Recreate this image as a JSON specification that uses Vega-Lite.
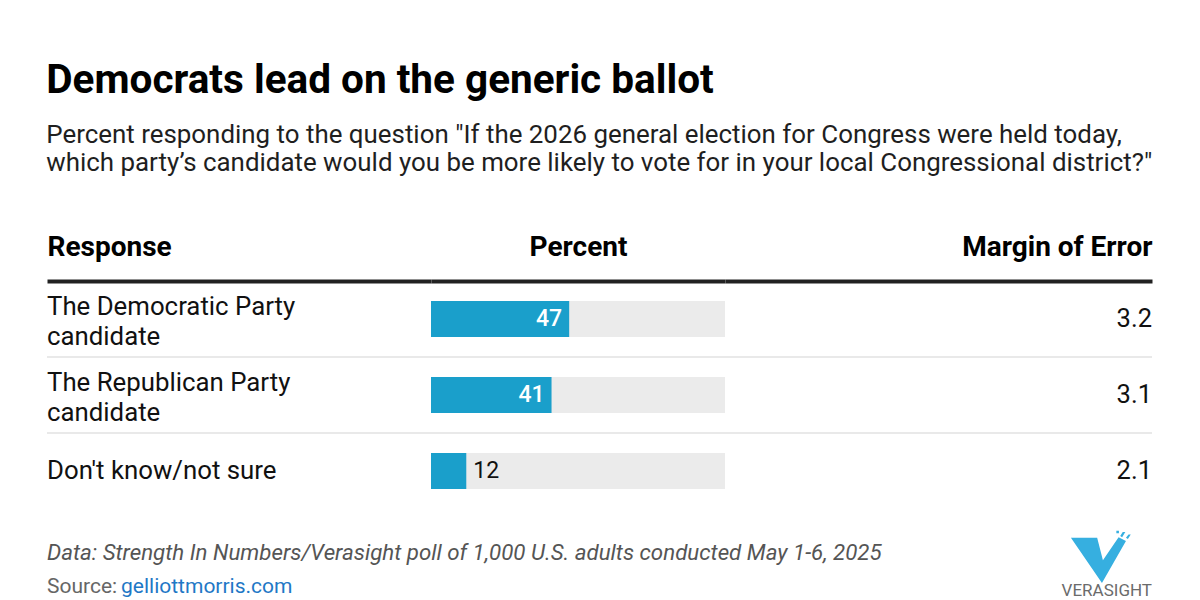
{
  "$schema": "https://vega.github.io/schema/vega-lite/v6.json",
  "background": "white",
  "padding": {"left": 46, "right": 45, "top": 60, "bottom": 0},
  "config": {
    "font": "Roboto",
    "view": {"stroke": null},
    "text": {"font": "Roboto"}
  },
  "title": {
    "text": "Democrats lead on the generic ballot",
    "subtitle": [
      "Percent responding to the question \"If the 2026 general election for Congress were held today,",
      "which party’s candidate would you be more likely to vote for in your local Congressional district?\""
    ],
    "anchor": "start",
    "font": "Roboto",
    "fontSize": 40.5,
    "fontWeight": "bold",
    "color": "#000000",
    "subtitleFont": "Roboto",
    "subtitleFontSize": 25.9,
    "subtitleColor": "#1f1f1f",
    "subtitlePadding": 22,
    "subtitleLineHeight": 28,
    "offset": 57
  },
  "datasets": {
    "rows": [
      {"row": 1, "response": "The Democratic Party\ncandidate", "pct": 47, "moe": 3.2},
      {"row": 2, "response": "The Republican Party\ncandidate", "pct": 41, "moe": 3.1},
      {"row": 3, "response": "Don't know/not sure", "pct": 12, "moe": 2.1}
    ],
    "footer": [
      {"line": 1, "part": "note", "text": "Data: Strength In Numbers/Verasight poll of 1,000 U.S. adults conducted May 1-6, 2025"},
      {"line": 2, "part": "label", "text": "Source:"},
      {"line": 2, "part": "link", "text": "gelliottmorris.com"},
      {"line": 1, "part": "logo", "text": ""},
      {"line": 2, "part": "brand", "text": "VERASIGHT"}
    ]
  },
  "spacing": 21,
  "vconcat": [
    {
      "spacing": 0,
      "bounds": "flush",
      "hconcat": [
        {
          "width": 384,
          "height": 228,
          "data": {"name": "rows"},
          "encoding": {
            "y": {"field": "row", "type": "ordinal", "scale": {"paddingInner": 0, "paddingOuter": 0}, "axis": null}
          },
          "layer": [
            {
              "transform": [{"filter": "datum.row > 1"}],
              "mark": {"type": "rule", "color": "#e2e2e2", "strokeWidth": 1.5},
              "encoding": {"y": {"field": "row", "type": "ordinal", "bandPosition": 0}}
            },
            {
              "transform": [{"filter": "indexof(datum.response, '\\n') >= 0"}],
              "mark": {"type": "text", "align": "left", "baseline": "middle", "dy": -12, "fontSize": 25.8, "lineBreak": "\n", "lineHeight": 30, "color": "#111111"},
              "encoding": {
                "x": {"datum": 0, "type": "quantitative", "scale": {"domain": [0, 1]},
                  "axis": {"orient": "top", "zindex": 1, "domain": true, "domainColor": "#222222", "domainWidth": 4, "ticks": false, "labels": false, "grid": false, "title": "Response", "titleAnchor": "start", "titleFont": "Roboto", "titleFontSize": 28, "titleFontWeight": "bold", "titleColor": "#000000", "titlePadding": 20}},
                "text": {"field": "response"}
              }
            },
            {
              "transform": [{"filter": "indexof(datum.response, '\\n') < 0"}],
              "mark": {"type": "text", "align": "left", "baseline": "middle", "fontSize": 25.8, "color": "#111111"},
              "encoding": {
                "x": {"datum": 0, "type": "quantitative"},
                "text": {"field": "response"}
              }
            }
          ]
        },
        {
          "width": 294,
          "height": 228,
          "data": {"name": "rows"},
          "encoding": {
            "y": {"field": "row", "type": "ordinal", "scale": {"paddingInner": 0, "paddingOuter": 0}, "axis": null}
          },
          "layer": [
            {
              "transform": [{"filter": "datum.row > 1"}],
              "mark": {"type": "rule", "color": "#e2e2e2", "strokeWidth": 1.5},
              "encoding": {"y": {"field": "row", "type": "ordinal", "bandPosition": 0}}
            },
            {
              "mark": {"type": "bar", "color": "#ebebeb", "height": {"band": 0.474}},
              "encoding": {
                "x": {"datum": 100, "type": "quantitative", "scale": {"domain": [0, 100], "nice": false},
                  "axis": {"orient": "top", "zindex": 1, "domain": true, "domainColor": "#222222", "domainWidth": 4, "ticks": false, "labels": false, "grid": false, "title": "Percent", "titleAnchor": "middle", "titleFont": "Roboto", "titleFontSize": 28, "titleFontWeight": "bold", "titleColor": "#000000", "titlePadding": 20}}
              }
            },
            {
              "mark": {"type": "bar", "color": "#1a9fcb", "height": {"band": 0.474}},
              "encoding": {"x": {"field": "pct", "type": "quantitative"}}
            },
            {
              "transform": [{"filter": "datum.pct >= 20"}],
              "mark": {"type": "text", "align": "right", "baseline": "middle", "dx": -7, "fontSize": 23, "fontWeight": 500, "color": "#ffffff"},
              "encoding": {"x": {"field": "pct", "type": "quantitative"}, "text": {"field": "pct", "type": "quantitative"}}
            },
            {
              "transform": [{"filter": "datum.pct < 20"}],
              "mark": {"type": "text", "align": "left", "baseline": "middle", "dx": 7, "fontSize": 23, "color": "#111111"},
              "encoding": {"x": {"field": "pct", "type": "quantitative"}, "text": {"field": "pct", "type": "quantitative"}}
            }
          ]
        },
        {
          "width": 427,
          "height": 228,
          "data": {"name": "rows"},
          "encoding": {
            "y": {"field": "row", "type": "ordinal", "scale": {"paddingInner": 0, "paddingOuter": 0}, "axis": null}
          },
          "layer": [
            {
              "transform": [{"filter": "datum.row > 1"}],
              "mark": {"type": "rule", "color": "#e2e2e2", "strokeWidth": 1.5},
              "encoding": {"y": {"field": "row", "type": "ordinal", "bandPosition": 0}}
            },
            {
              "mark": {"type": "text", "align": "right", "baseline": "middle", "fontSize": 25.5, "color": "#111111"},
              "encoding": {
                "x": {"datum": 1, "type": "quantitative", "scale": {"domain": [0, 1]},
                  "axis": {"orient": "top", "zindex": 1, "domain": true, "domainColor": "#222222", "domainWidth": 4, "ticks": false, "labels": false, "grid": false, "title": "Margin of Error", "titleAnchor": "end", "titleFont": "Roboto", "titleFontSize": 28, "titleFontWeight": "bold", "titleColor": "#000000", "titlePadding": 20}},
                "text": {"field": "moe", "type": "quantitative", "format": ".1f"}
              }
            }
          ]
        }
      ]
    },
    {
      "width": 1105,
      "height": 68,
      "data": {"name": "footer"},
      "encoding": {
        "y": {"field": "line", "type": "ordinal", "axis": null, "scale": {"paddingInner": 0, "paddingOuter": 0}}
      },
      "layer": [
        {
          "transform": [{"filter": "datum.part == 'note'"}],
          "mark": {"type": "text", "align": "left", "baseline": "middle", "fontSize": 22.3, "fontStyle": "italic", "color": "#555555"},
          "encoding": {"x": {"datum": 0, "type": "quantitative", "scale": {"domain": [0, 1]}, "axis": null}, "text": {"field": "text"}}
        },
        {
          "transform": [{"filter": "datum.part == 'label'"}],
          "mark": {"type": "text", "align": "left", "baseline": "middle", "fontSize": 21, "color": "#666666"},
          "encoding": {"x": {"datum": 0, "type": "quantitative"}, "text": {"field": "text"}}
        },
        {
          "transform": [{"filter": "datum.part == 'link'"}],
          "mark": {"type": "text", "align": "left", "baseline": "middle", "fontSize": 21, "dx": 74, "color": "#1f78c6"},
          "encoding": {"x": {"datum": 0, "type": "quantitative"}, "text": {"field": "text"}}
        },
        {
          "transform": [{"filter": "datum.part == 'logo'"}],
          "mark": {"type": "point", "filled": true, "color": "#36afe0", "opacity": 1, "size": 4096, "xOffset": -51, "yOffset": 4,
            "shape": "M -0.94 -0.6 L -0.12 -0.6 L 0.06 0.1 L 0.55 -0.62 L 0.78 -0.5 L 0.03 0.81 Z M 0.48 -0.82 L 0.56 -0.82 L 0.56 -0.74 L 0.48 -0.74 Z M 0.68 -0.78 L 0.76 -0.78 L 0.66 -0.62 L 0.6 -0.66 Z M 0.86 -0.7 L 0.93 -0.7 L 0.84 -0.56 L 0.78 -0.6 Z"},
          "encoding": {"x": {"datum": 1, "type": "quantitative"}}
        },
        {
          "transform": [{"filter": "datum.part == 'brand'"}],
          "mark": {"type": "text", "align": "right", "baseline": "middle", "fontSize": 17, "dy": 4, "color": "#6b6b6b"},
          "encoding": {"x": {"datum": 1, "type": "quantitative"}, "text": {"field": "text"}}
        }
      ]
    }
  ]
}
